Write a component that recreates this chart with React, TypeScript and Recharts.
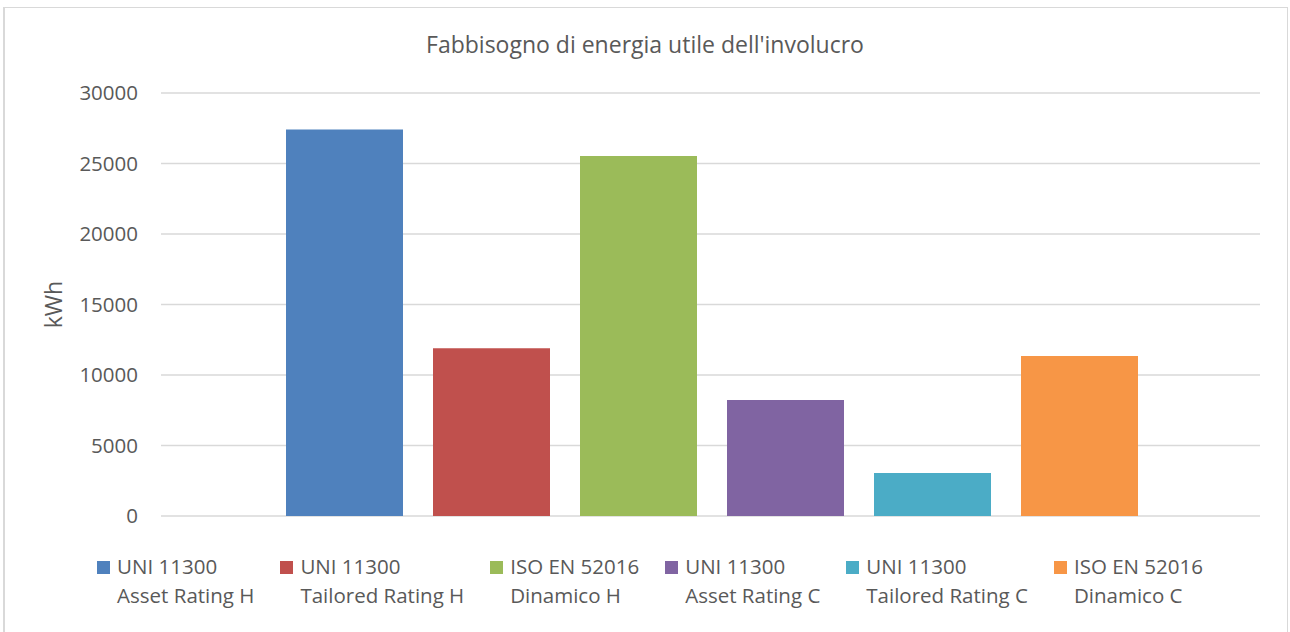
import React from 'react';
import { BarChart, Bar, XAxis, YAxis, CartesianGrid, Legend } from 'recharts';

const categories = [''];
const seriesNames = [
  'UNI 11300 Asset Rating H',
  'UNI 11300 Tailored Rating H',
  'ISO EN 52016 Dinamico H',
  'UNI 11300 Asset Rating C',
  'UNI 11300 Tailored Rating C',
  'ISO EN 52016 Dinamico C',
];
const labelLine1 = ['UNI 11300', 'UNI 11300', 'ISO EN 52016', 'UNI 11300', 'UNI 11300', 'ISO EN 52016'];
const labelLine2 = ['Asset Rating H', 'Tailored Rating H', 'Dinamico H', 'Asset Rating C', 'Tailored Rating C', 'Dinamico C'];
const seriesValues = [27420, 11900, 25530, 8230, 3050, 11350];
const yTicks = [0, 5000, 10000, 15000, 20000, 25000, 30000];
const colors = ['#4f81bd', '#c0504d', '#9bbb59', '#8064a2', '#4bacc6', '#f79646'];

const data = categories.map((c) => {
  const row: Record<string, any> = { name: c };
  seriesNames.forEach((s, i) => {
    row['s' + i] = seriesValues[i];
  });
  return row;
});

const FONT = '"Open Sans", Lato, sans-serif';
const TEXT = '#595959';

const LegendContent = () => (
  <div style={{ display: 'flex', justifyContent: 'center', gap: 26, fontFamily: FONT, fontSize: 20.5, lineHeight: '29px', color: TEXT }}>
    {seriesNames.map((s, i) => (
      <div key={s} style={{ display: 'flex', alignItems: 'flex-start' }}>
        <div style={{ width: 13, height: 13, background: colors[i], marginTop: 9, marginRight: 7 }} />
        <div style={{ textAlign: 'left', whiteSpace: 'nowrap' }}>
          <div>{labelLine1[i]}</div>
          <div>{labelLine2[i]}</div>
        </div>
      </div>
    ))}
  </div>
);

export default function App() {
  return (
    <div style={{ position: 'absolute', left: 0, top: 0, width: 1290, height: 632, overflow: 'hidden', background: '#fff' }}>
      <div style={{ position: 'absolute', left: 3, top: 7, width: 1282, height: 640, borderLeft: '2px solid #d9d9d9', borderTop: '1px solid #d9d9d9', borderRight: '1px solid #d9d9d9' }} />
      <div style={{ position: 'absolute', left: 0, top: 28, width: 1290, textAlign: 'center', fontFamily: FONT, fontSize: 23, color: TEXT }}>
        Fabbisogno di energia utile dell'involucro
      </div>
      <div style={{ position: 'absolute', left: 0, top: 0 }}>
        <BarChart
          width={1290}
          height={632}
          data={data}
          margin={{ top: 93, right: 30, bottom: 116, left: 81 }}
          barCategoryGap={125}
          barGap={30}
        >
          <CartesianGrid vertical={false} stroke="#d9d9d9" strokeWidth={1.3} />
          <XAxis dataKey="name" hide />
          <YAxis
            width={80}
            domain={[0, 30000]}
            ticks={yTicks}
            axisLine={false}
            tickLine={false}
            tickSize={0}
            tickMargin={23}
            tick={{ fill: TEXT, fontSize: 20.5, fontFamily: FONT }}
            label={{
              content: (props: any) => {
                const vb = props.viewBox;
                const cx = vb.x - 28;
                const cy = vb.y + vb.height / 2;
                return (
                  <text x={cx} y={cy} transform={`rotate(-90 ${cx} ${cy})`} textAnchor="middle" dominantBaseline="central" fill={TEXT} fontSize={23} fontFamily={FONT}>
                    kWh
                  </text>
                );
              },
            }}
          />
          {seriesNames.map((s, i) => (
            <Bar key={s} dataKey={'s' + i} name={s} fill={colors[i]} isAnimationActive={false} />
          ))}
          <Legend
            layout="horizontal"
            verticalAlign="middle"
            align="center"
            wrapperStyle={{ top: 552, left: 5, width: 1290 }}
            content={<LegendContent />}
          />
        </BarChart>
      </div>
    </div>
  );
}
